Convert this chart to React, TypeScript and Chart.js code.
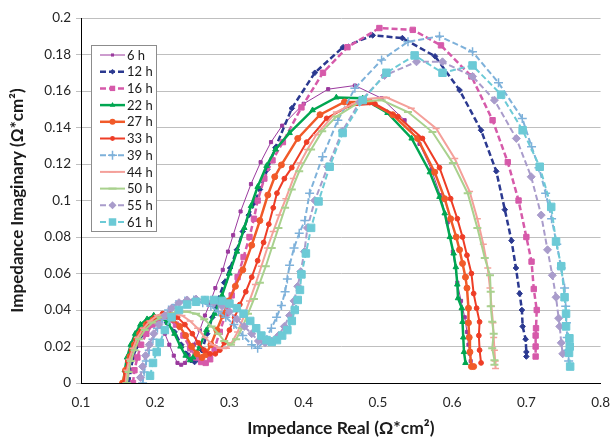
import React, { useEffect, useRef } from 'react';
import { Chart, registerables } from 'chart.js';

Chart.register(...registerables);

const seriesNames = ['6 h', '12 h', '16 h', '22 h', '27 h', '33 h', '39 h', '44 h', '50 h', '55 h', '61 h'];

const xTickValues = [0.1, 0.2, 0.3, 0.4, 0.5, 0.6, 0.7, 0.8];
const yTickValues = [0, 0.02, 0.04, 0.06, 0.08, 0.1, 0.12, 0.14, 0.16, 0.18, 0.2];

type P = [number, number];

const h6: P[] = [[0.163,0.000],[0.165,0.006],[0.168,0.012],[0.172,0.018],[0.177,0.023],[0.183,0.027],[0.190,0.030],[0.198,0.032],[0.206,0.031],[0.213,0.027],[0.219,0.021],[0.225,0.015],[0.230,0.011],[0.235,0.010],[0.240,0.011],[0.245,0.015],[0.252,0.021],[0.260,0.029],[0.267,0.037],[0.274,0.044],[0.281,0.052],[0.291,0.062],[0.298,0.072],[0.305,0.081],[0.315,0.094],[0.329,0.109],[0.342,0.121],[0.356,0.132],[0.371,0.141],[0.400,0.153],[0.433,0.161],[0.469,0.163],[0.505,0.156],[0.536,0.144],[0.556,0.131],[0.572,0.117],[0.584,0.103],[0.594,0.088],[0.601,0.072],[0.607,0.055],[0.612,0.045],[0.617,0.036],[0.620,0.028],[0.622,0.021],[0.624,0.016],[0.625,0.012]];

const h12: P[] = [[0.165,0.000],[0.167,0.007],[0.170,0.014],[0.175,0.020],[0.181,0.026],[0.188,0.031],[0.197,0.034],[0.206,0.035],[0.216,0.033],[0.226,0.028],[0.235,0.021],[0.242,0.016],[0.248,0.0125],[0.253,0.0115],[0.258,0.013],[0.263,0.018],[0.270,0.027],[0.277,0.036],[0.285,0.046],[0.293,0.055],[0.301,0.063],[0.310,0.073],[0.318,0.083],[0.326,0.092],[0.334,0.099],[0.341,0.106],[0.351,0.117],[0.362,0.129],[0.384,0.1505],[0.415,0.170],[0.453,0.184],[0.493,0.1905],[0.533,0.189],[0.577,0.179],[0.610,0.1605],[0.639,0.1385],[0.6595,0.116],[0.671,0.095],[0.680,0.078],[0.686,0.063],[0.691,0.049],[0.694,0.040],[0.695,0.031],[0.699,0.024],[0.700,0.017],[0.700,0.0145]];

const h16: P[] = [[0.170,0.000],[0.172,0.007],[0.176,0.014],[0.181,0.021],[0.188,0.027],[0.196,0.032],[0.206,0.035],[0.217,0.035],[0.228,0.032],[0.238,0.026],[0.247,0.019],[0.255,0.014],[0.262,0.0115],[0.268,0.011],[0.274,0.013],[0.280,0.019],[0.287,0.028],[0.295,0.038],[0.303,0.048],[0.311,0.058],[0.319,0.069],[0.327,0.080],[0.333,0.090],[0.338,0.100],[0.347,0.112],[0.358,0.122],[0.372,0.132],[0.397,0.151],[0.426,0.170],[0.459,0.184],[0.502,0.1945],[0.547,0.1935],[0.585,0.185],[0.626,0.168],[0.6545,0.144],[0.675,0.121],[0.6895,0.100],[0.700,0.080],[0.707,0.0665],[0.710,0.0515],[0.714,0.040],[0.713,0.030],[0.7125,0.026],[0.7125,0.020],[0.7125,0.0145]];

const h22: P[] = [[0.157,0.000],[0.159,0.007],[0.162,0.014],[0.167,0.021],[0.173,0.027],[0.180,0.032],[0.189,0.035],[0.198,0.037],[0.208,0.036],[0.217,0.033],[0.226,0.027],[0.234,0.020],[0.241,0.015],[0.247,0.0125],[0.251,0.014],[0.255,0.0165],[0.260,0.020],[0.269,0.029],[0.280,0.038],[0.290,0.048],[0.300,0.060],[0.310,0.072],[0.320,0.085],[0.329,0.097],[0.338,0.1075],[0.350,0.119],[0.362,0.128],[0.381,0.137],[0.412,0.1495],[0.444,0.1565],[0.4795,0.156],[0.513,0.148],[0.5455,0.134],[0.570,0.1155],[0.583,0.102],[0.590,0.093],[0.597,0.080],[0.602,0.071],[0.605,0.0635],[0.607,0.054],[0.608,0.0465],[0.613,0.041],[0.614,0.0335],[0.615,0.025],[0.616,0.017],[0.618,0.011]];

const h27: P[] = [[0.156,0.000],[0.160,0.007],[0.166,0.0145],[0.172,0.021],[0.179,0.027],[0.188,0.032],[0.197,0.0345],[0.206,0.036],[0.215,0.037],[0.224,0.035],[0.233,0.031],[0.241,0.026],[0.249,0.020],[0.256,0.016],[0.263,0.014],[0.268,0.0155],[0.275,0.021],[0.283,0.029],[0.291,0.037],[0.299,0.045],[0.308,0.053],[0.318,0.062],[0.330,0.0755],[0.341,0.089],[0.3517,0.103],[0.361,0.113],[0.370,0.1195],[0.392,0.134],[0.422,0.147],[0.455,0.154],[0.489,0.154],[0.520,0.147],[0.5535,0.134],[0.5765,0.1155],[0.590,0.101],[0.598,0.090],[0.6055,0.080],[0.610,0.073],[0.614,0.0655],[0.618,0.058],[0.620,0.052],[0.622,0.041],[0.622,0.033],[0.623,0.025],[0.624,0.017],[0.626,0.009],[0.629,0.009]];

const h33: P[] = [[0.158,0.000],[0.160,0.006],[0.163,0.012],[0.168,0.018],[0.174,0.024],[0.181,0.029],[0.190,0.033],[0.200,0.036],[0.210,0.038],[0.220,0.038],[0.230,0.036],[0.240,0.032],[0.250,0.027],[0.258,0.022],[0.266,0.018],[0.274,0.016],[0.281,0.016],[0.287,0.018],[0.293,0.022],[0.300,0.029],[0.307,0.036],[0.314,0.043],[0.322,0.050],[0.330,0.058],[0.338,0.067],[0.346,0.077],[0.353,0.087],[0.359,0.096],[0.364,0.104],[0.374,0.112],[0.384,0.118],[0.404,0.132],[0.431,0.145],[0.462,0.152],[0.496,0.153],[0.527,0.146],[0.560,0.134],[0.583,0.118],[0.598,0.101],[0.607,0.090],[0.614,0.080],[0.620,0.070],[0.626,0.060],[0.629,0.049],[0.633,0.041],[0.637,0.0335],[0.636,0.026],[0.637,0.018],[0.639,0.011]];

const h39: P[] = [[0.183,0.000],[0.185,0.006],[0.188,0.012],[0.192,0.018],[0.197,0.024],[0.203,0.030],[0.210,0.035],[0.218,0.040],[0.228,0.043],[0.240,0.045],[0.252,0.0455],[0.264,0.044],[0.275,0.042],[0.285,0.039],[0.295,0.036],[0.306,0.032],[0.318,0.026],[0.330,0.021],[0.338,0.019],[0.3475,0.0235],[0.3565,0.030],[0.3635,0.036],[0.370,0.0425],[0.375,0.050],[0.378,0.057],[0.381,0.0645],[0.387,0.074],[0.394,0.082],[0.4015,0.089],[0.408,0.104],[0.4255,0.124],[0.446,0.144],[0.469,0.1615],[0.505,0.177],[0.5405,0.187],[0.583,0.190],[0.6275,0.1815],[0.6625,0.1645],[0.6945,0.145],[0.707,0.1295],[0.717,0.118],[0.726,0.104],[0.734,0.090],[0.741,0.076],[0.747,0.063],[0.7515,0.052],[0.753,0.042],[0.754,0.033],[0.755,0.025],[0.756,0.018],[0.757,0.012]];

const h44: P[] = [[0.160,0.000],[0.162,0.007],[0.165,0.013],[0.170,0.019],[0.176,0.025],[0.184,0.030],[0.193,0.034],[0.203,0.037],[0.214,0.038],[0.225,0.038],[0.236,0.037],[0.247,0.034],[0.257,0.030],[0.267,0.025],[0.277,0.021],[0.287,0.019],[0.296,0.019],[0.303,0.022],[0.311,0.028],[0.319,0.036],[0.327,0.045],[0.335,0.054],[0.343,0.064],[0.351,0.074],[0.359,0.083],[0.367,0.092],[0.376,0.101],[0.386,0.112],[0.395,0.1205],[0.405,0.128],[0.417,0.136],[0.444,0.1485],[0.4795,0.1555],[0.5115,0.1565],[0.545,0.1505],[0.5785,0.1395],[0.6035,0.123],[0.6235,0.105],[0.634,0.090],[0.642,0.076],[0.648,0.063],[0.651,0.052],[0.653,0.042],[0.655,0.033],[0.656,0.025],[0.657,0.018],[0.658,0.012],[0.6585,0.008]];

const h50: P[] = [[0.162,0.000],[0.164,0.006],[0.167,0.012],[0.172,0.018],[0.178,0.024],[0.186,0.029],[0.196,0.033],[0.207,0.036],[0.219,0.038],[0.231,0.039],[0.243,0.039],[0.255,0.038],[0.266,0.035],[0.276,0.031],[0.285,0.027],[0.293,0.023],[0.302,0.021],[0.309,0.024],[0.317,0.030],[0.325,0.038],[0.333,0.046],[0.341,0.055],[0.349,0.064],[0.357,0.074],[0.366,0.085],[0.375,0.096],[0.384,0.106],[0.394,0.116],[0.410,0.128],[0.425,0.138],[0.444,0.146],[0.4755,0.154],[0.505,0.155],[0.5405,0.1485],[0.5735,0.1375],[0.601,0.1205],[0.621,0.104],[0.634,0.085],[0.644,0.0685],[0.651,0.059],[0.652,0.050],[0.652,0.042],[0.654,0.0335],[0.656,0.027],[0.654,0.019],[0.657,0.0125],[0.657,0.010]];

const h55: P[] = [[0.180,0.003],[0.183,0.009],[0.187,0.015],[0.192,0.021],[0.198,0.027],[0.205,0.032],[0.213,0.037],[0.222,0.041],[0.232,0.044],[0.243,0.0455],[0.255,0.046],[0.267,0.0455],[0.279,0.044],[0.290,0.042],[0.300,0.039],[0.310,0.035],[0.320,0.031],[0.330,0.027],[0.339,0.023],[0.348,0.022],[0.357,0.023],[0.366,0.026],[0.374,0.031],[0.381,0.037],[0.387,0.045],[0.392,0.053],[0.396,0.061],[0.401,0.072],[0.405,0.085],[0.415,0.100],[0.4325,0.1185],[0.452,0.138],[0.4755,0.154],[0.509,0.1685],[0.552,0.176],[0.587,0.176],[0.6275,0.168],[0.657,0.155],[0.6865,0.134],[0.7065,0.113],[0.720,0.092],[0.7285,0.073],[0.735,0.059],[0.740,0.047],[0.7435,0.0355],[0.745,0.031],[0.747,0.022],[0.749,0.016]];

const h61: P[] = [[0.193,0.004],[0.197,0.011],[0.202,0.017],[0.206,0.022],[0.213,0.029],[0.222,0.036],[0.232,0.040],[0.243,0.043],[0.255,0.0445],[0.267,0.0455],[0.279,0.0455],[0.290,0.045],[0.300,0.0435],[0.310,0.041],[0.319,0.038],[0.328,0.034],[0.336,0.030],[0.343,0.026],[0.350,0.0235],[0.357,0.0225],[0.364,0.0235],[0.371,0.026],[0.378,0.029],[0.384,0.034],[0.388,0.040],[0.392,0.0455],[0.395,0.051],[0.397,0.0595],[0.403,0.071],[0.410,0.085],[0.420,0.0995],[0.435,0.1185],[0.4525,0.137],[0.4795,0.155],[0.5115,0.170],[0.5495,0.1795],[0.587,0.170],[0.6275,0.174],[0.666,0.158],[0.695,0.1385],[0.718,0.1185],[0.7335,0.0965],[0.740,0.0775],[0.747,0.064],[0.7515,0.047],[0.7535,0.038],[0.7535,0.031],[0.758,0.0245],[0.7585,0.020],[0.7575,0.0165],[0.759,0.009]];

const seriesData: P[][] = [h6, h12, h16, h22, h27, h33, h39, h44, h50, h55, h61];

type Sty = { color: string; width: number; dash: number[]; point: string; radius: number; pw: number };

const styles: Sty[] = [
  { color: '#9B3A9E', width: 1, dash: [], point: 'rect', radius: 2.2, pw: 1 },
  { color: '#2B3990', width: 2.5, dash: [6, 3], point: 'rectRot', radius: 2.8, pw: 1 },
  { color: '#D65AAA', width: 2.5, dash: [6, 3], point: 'rect', radius: 3.8, pw: 1 },
  { color: '#00A651', width: 2.5, dash: [], point: 'triangle', radius: 3.2, pw: 1 },
  { color: '#F15A29', width: 2.5, dash: [], point: 'circle', radius: 3, pw: 1 },
  { color: '#EE3D26', width: 2, dash: [], point: 'circle', radius: 2.4, pw: 1 },
  { color: '#7EB1DA', width: 2, dash: [6, 3], point: 'cross', radius: 4.5, pw: 1.5 },
  { color: '#F4A09A', width: 2, dash: [], point: 'line', radius: 3.5, pw: 1.5 },
  { color: '#A9D18E', width: 2, dash: [], point: 'line', radius: 4, pw: 2 },
  { color: '#A99CCB', width: 2, dash: [6, 3], point: 'rectRot', radius: 4, pw: 1 },
  { color: '#6CCAD6', width: 2, dash: [6, 3], point: 'rect', radius: 5.3, pw: 1 },
];

const FONT = 'Lato, "Noto Sans", sans-serif';

function drawMarker(ctx: CanvasRenderingContext2D, st: Sty, x: number, y: number) {
  const r = st.radius;
  ctx.save();
  ctx.setLineDash([]);
  ctx.fillStyle = st.color;
  ctx.strokeStyle = st.color;
  ctx.lineWidth = st.pw;
  ctx.beginPath();
  if (st.point === 'rect') {
    const s = r * Math.SQRT1_2;
    ctx.rect(x - s, y - s, 2 * s, 2 * s);
    ctx.fill();
  } else if (st.point === 'rectRot') {
    ctx.moveTo(x, y - r); ctx.lineTo(x + r, y); ctx.lineTo(x, y + r); ctx.lineTo(x - r, y); ctx.closePath();
    ctx.fill();
  } else if (st.point === 'triangle') {
    ctx.moveTo(x, y - r); ctx.lineTo(x + r * 0.866, y + r * 0.5); ctx.lineTo(x - r * 0.866, y + r * 0.5); ctx.closePath();
    ctx.fill();
  } else if (st.point === 'circle') {
    ctx.arc(x, y, r, 0, Math.PI * 2);
    ctx.fill();
  } else if (st.point === 'cross') {
    ctx.moveTo(x - r, y); ctx.lineTo(x + r, y); ctx.moveTo(x, y - r); ctx.lineTo(x, y + r);
    ctx.stroke();
  } else if (st.point === 'line') {
    ctx.moveTo(x - r, y); ctx.lineTo(x + r, y);
    ctx.stroke();
  }
  ctx.restore();
}

const boxLegend = {
  id: 'boxLegend',
  afterDraw(chart: any) {
    const ctx: CanvasRenderingContext2D = chart.ctx;
    const x0 = 91, y0 = 45, w = 65, h = 186;
    ctx.save();
    ctx.fillStyle = '#ffffff';
    ctx.fillRect(x0, y0, w, h);
    ctx.strokeStyle = '#8C8C8C';
    ctx.lineWidth = 1;
    ctx.strokeRect(x0 + 0.5, y0 + 0.5, w, h);
    ctx.font = '13px ' + FONT;
    ctx.textBaseline = 'middle';
    ctx.textAlign = 'left';
    seriesNames.forEach((name, i) => {
      const st = styles[i];
      const y = 55 + i * 16.7;
      ctx.strokeStyle = st.color;
      ctx.lineWidth = st.width;
      ctx.setLineDash(st.dash);
      ctx.beginPath();
      ctx.moveTo(100, y);
      ctx.lineTo(125, y);
      ctx.stroke();
      ctx.setLineDash([]);
      drawMarker(ctx, st, 112.5, y);
      ctx.fillStyle = '#1A1A1A';
      ctx.fillText(name, 127, y + 0.5);
    });
    ctx.restore();
  },
};

export default function App() {
  const ref = useRef<HTMLCanvasElement>(null);
  useEffect(() => {
    document.body.style.margin = '0';
    if (!ref.current) return;
    const chart = new Chart(ref.current, {
      type: 'scatter',
      data: {
        datasets: seriesData.map((pts, i) => {
          const st = styles[i];
          return {
            label: seriesNames[i],
            data: pts.map(([x, y]) => ({ x, y })),
            showLine: true,
            borderColor: st.color,
            backgroundColor: st.color,
            borderWidth: st.width,
            borderDash: st.dash,
            pointStyle: st.point as any,
            pointRadius: st.radius,
            pointBorderWidth: st.pw,
            pointBackgroundColor: st.color,
            pointBorderColor: st.color,
            tension: 0,
            order: seriesData.length - i,
          };
        }),
      },
      options: {
        animation: false,
        responsive: false,
        devicePixelRatio: 1,
        layout: { padding: { top: 18, right: 13, left: 0, bottom: 0 } },
        plugins: { legend: { display: false }, tooltip: { enabled: false } },
        scales: {
          x: {
            type: 'linear',
            min: xTickValues[0],
            max: xTickValues[xTickValues.length - 1],
            afterBuildTicks: (s: any) => { s.ticks = xTickValues.map((v) => ({ value: v })); },
            afterFit: (s: any) => { s.height = 59; },
            grid: { display: false },
            border: { display: true, color: '#000000', width: 1 },
            ticks: {
              padding: 4,
              color: '#262626',
              font: { family: FONT, size: 13.5 },
              callback: (v: any) => Number(v).toFixed(1),
            },
            title: {
              display: true,
              text: 'Impedance Real (Ω*cm²)',
              color: '#1A1A1A',
              font: { family: FONT, size: 17.5, weight: 'bold' },
              padding: { top: 0, bottom: 3 },
            },
          },
          y: {
            type: 'linear',
            min: yTickValues[0],
            max: yTickValues[yTickValues.length - 1],
            afterBuildTicks: (s: any) => { s.ticks = yTickValues.map((v) => ({ value: v })); },
            afterFit: (s: any) => { s.width = 81; },
            grid: { color: '#BFBFBF', lineWidth: 1, tickLength: 5 },
            border: { display: true, color: '#000000', width: 1 },
            ticks: {
              padding: 5,
              color: '#262626',
              font: { family: FONT, size: 13.5 },
              callback: (v: any) => String(Number(Number(v).toFixed(2))),
            },
            title: {
              display: true,
              text: 'Impedance Imaginary (Ω*cm²)',
              color: '#1A1A1A',
              font: { family: FONT, size: 17, weight: 'bold' },
              padding: { top: 7, bottom: 0 },
            },
          },
        },
      },
      plugins: [boxLegend],
    });
    return () => chart.destroy();
  }, []);
  return (
    <div style={{ width: 614, height: 442 }}>
      <canvas ref={ref} width={614} height={442} style={{ display: 'block' }} />
    </div>
  );
}
